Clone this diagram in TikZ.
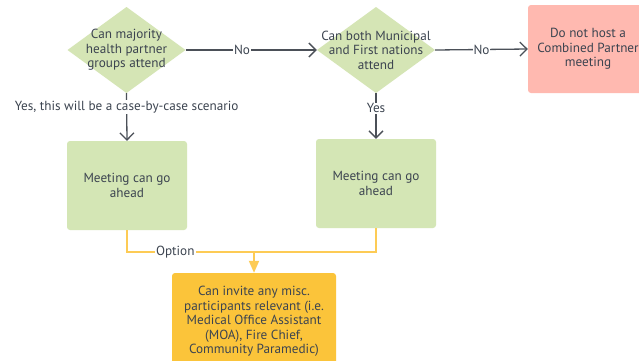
\documentclass[tikz,border=0pt]{standalone}
\usepackage{fontspec}
\setmainfont{PT Sans}
\usetikzlibrary{arrows.meta}
\definecolor{dgreen}{HTML}{D5E5B5}
\definecolor{bgreen}{HTML}{D4E6B5}
\definecolor{redbox}{HTML}{FFB9B0}
\definecolor{orbox}{HTML}{FBC43A}
\definecolor{orline}{HTML}{FDCB55}
\definecolor{txt}{HTML}{3C4450}
\definecolor{lngray}{HTML}{4B5058}
\tikzset{
  base/.style={font=\fontsize{13.2}{14.5}\selectfont, text=txt, align=center, inner sep=0pt},
  dia/.style={base, rectangle, minimum width=118pt, minimum height=86pt,
    path picture={\fill[dgreen] (path picture bounding box.north) -- (path picture bounding box.east) -- (path picture bounding box.south) -- (path picture bounding box.west) -- cycle;}},
  gbox/.style={base, rectangle, rounded corners=3pt, fill=bgreen, minimum width=120pt, minimum height=89pt},
  rbox/.style={base, rectangle, rounded corners=3pt, fill=redbox, minimum width=120pt, minimum height=88pt},
  obox/.style={base, rectangle, rounded corners=3pt, fill=orbox, minimum width=164pt, minimum height=97pt},
  conn/.style={draw=lngray, line width=1.3pt, -{Straight Barb[length=7pt,width=14pt,line width=1.3pt]}},
  oconn/.style={draw=orline, line width=1.8pt},
  lbl/.style={base, fill=white, inner sep=1pt},
}
\begin{document}
\begin{tikzpicture}[x=1pt,y=-1pt]
\clip (0,0) rectangle (639,360);
\fill[white] (0,0) rectangle (639,360);
\node[dia] (d1) at (126.5,50) {Can majority\\health partner\\groups attend};
\node[dia] (d2) at (376,50) {Can both Municipal\\and First nations\\attend};
\node[rbox] (r) at (588,49) {Do not host a\\Combined Partner\\meeting};
\node[gbox] (b1) at (127,185.5) {Meeting can go\\ahead};
\node[gbox] (b2) at (376,183.5) {Meeting can go\\ahead};
\node[obox] (o) at (254,321.5) {Can invite any misc.\\participants relevant (i.e.\\Medical Office Assistant\\(MOA), Fire Chief,\\Community Paramedic)};
\coordinate (j) at (254,252);
\draw[conn] (d1.east) -- node[lbl,pos=0.43]{No} (d2.west);
\draw[conn] (d2.east) -- node[lbl,pos=0.5]{No} (r.west);
\draw[conn] (d1.south) -- node[lbl,pos=0.29]{Yes, this will be a case-by-case scenario} (b1.north);
\draw[conn] (d2.south) -- node[lbl,pos=0.33]{Yes} (b2.north);
\draw[oconn] (b2.south) |- (j);
\draw[oconn] (b1.south) |- node[lbl,pos=0.69]{Option} (j);
\draw[oconn,-{Triangle[length=12pt,width=10pt]}] (j) -- (o.north);
\end{tikzpicture}
\end{document}
